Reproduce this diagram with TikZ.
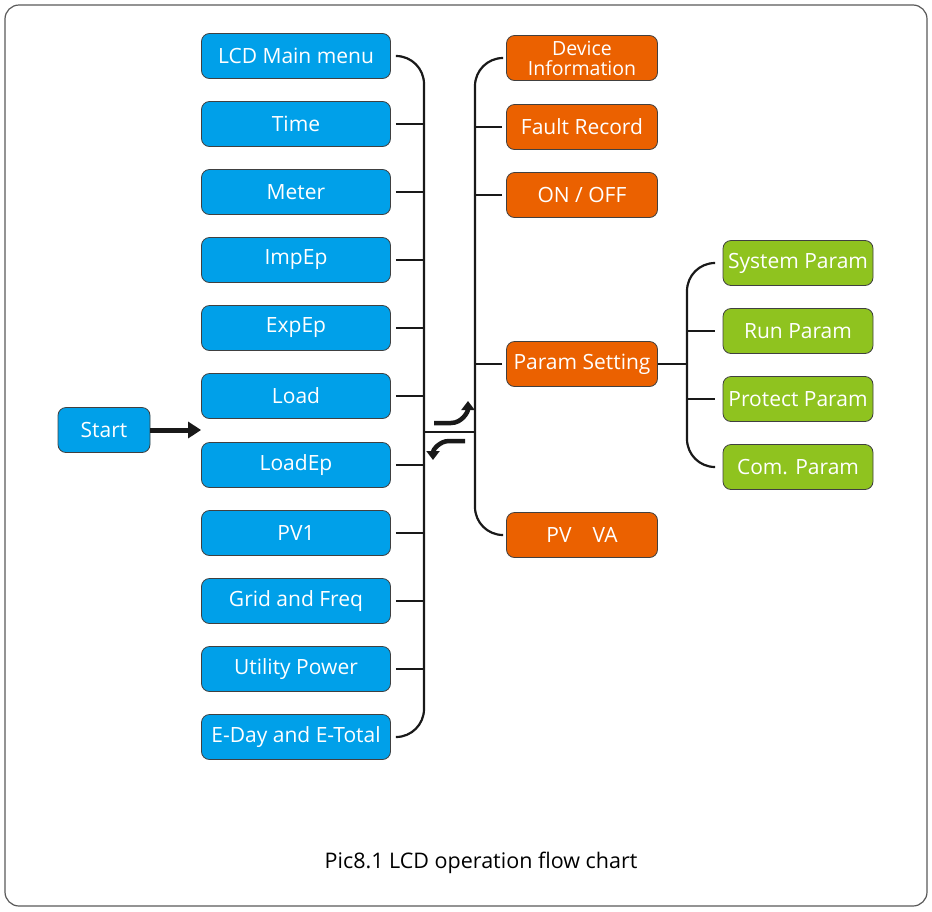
\documentclass[tikz,border=0pt]{standalone}
\usepackage{fontspec}
\setmainfont{Open Sans}
\usepackage{xcolor}
\usetikzlibrary{arrows.meta, positioning, calc}

\definecolor{lcdblue}{RGB}{0,160,233}
\definecolor{lcdorange}{RGB}{235,97,0}
\definecolor{lcdgreen}{RGB}{143,195,31}

\begin{document}
\begin{tikzpicture}[
    x=1pt, y=-1pt,
    box/.style={draw=black!75, line width=0.8pt, rounded corners=8pt, minimum height=45pt, inner sep=2pt, align=center, text=white, font=\fontsize{21}{22}\selectfont},
    menu/.style={box, fill=lcdblue, minimum width=189pt},
    sub/.style={box, fill=lcdorange, minimum width=151pt},
    param/.style={box, fill=lcdgreen, minimum width=150pt},
    link/.style={line width=2.2pt, draw=black!90},
    arr/.style={-{Triangle[length=13pt, width=16pt]}, line width=5pt, draw=black!90},
    turn/.style={-{Triangle[length=9pt, width=13pt]}, line width=4.5pt, draw=black!90}
]
\useasboundingbox (0,0) rectangle (932,911);
\draw[black!65, line width=1.2pt, rounded corners=14pt] (5,5) rectangle (927,906);

% main menu column
\node[menu] (main)   at (296,56)  {LCD Main menu};
\node[menu] (time)   at (296,124) {Time};
\node[menu] (meter)  at (296,192) {Meter};
\node[menu] (impep)  at (296,260) {ImpEp};
\node[menu] (expep)  at (296,328) {ExpEp};
\node[menu] (load)   at (296,396) {Load};
\node[menu] (loadep) at (296,465) {LoadEp};
\node[menu] (pv)     at (296,533) {PV1};
\node[menu] (grid)   at (296,601) {Grid and Freq};
\node[menu] (util)   at (296,669) {Utility Power};
\node[menu] (eday)   at (296,737) {E-Day and E-Total};

\node[menu, minimum width=92pt] (start) at (104,430) {Start};
\draw[arr] (start) -- (main.west |- start);

% sub menu column
\node[sub, font=\fontsize{19.5}{20}\selectfont] (info) at (582,58) {Device\\Information};
\node[sub] (fault) at (582,127) {Fault Record};
\node[sub] (onoff) at (582,195) {ON / OFF};
\node[sub] (setting) at (582,364) {Param Setting};
\node[sub] (pvva) at (582,535) {PV\quad VA};

% parameter column
\node[param] (sys)  at (798,263) {System Param};
\node[param] (run)  at (798,331) {Run Param};
\node[param] (prot) at (798,399) {Protect Param};
\node[param] (com)  at (798,467) {Com. Param};

% brackets
\coordinate (lspine) at (424,432);
\coordinate (rspine) at (475,432);
\coordinate (gspine) at (687,364);

\draw[link, rounded corners=28pt] ([xshift=5pt]main.east) -| (lspine |- eday.east) -- ([xshift=5pt]eday.east);
\foreach \n in {time,meter,impep,expep,load,loadep,pv,grid,util}
    \draw[link] ([xshift=5pt]\n.east) -- (lspine |- \n.east);

\draw[link, rounded corners=28pt] ([xshift=-4pt]info.west) -| (rspine |- pvva.west) -- ([xshift=-4pt]pvva.west);
\foreach \n in {fault,onoff,setting}
    \draw[link] ([xshift=-4pt]\n.west) -- (rspine |- \n.west);
\draw[link] (lspine) -- (rspine);

\draw[link, rounded corners=28pt] ([xshift=-8pt]sys.west) -| (gspine |- com.west) -- ([xshift=-8pt]com.west);
\foreach \n in {run,prot}
    \draw[link] ([xshift=-8pt]\n.west) -- (gspine |- \n.west);
\draw[link] (setting.east) -- (gspine);

% turn arrows
\coordinate (upA) at (434,423);
\coordinate (upB) at (451,423);
\coordinate (upC) at (468,401);
\coordinate (dnA) at (465,441);
\coordinate (dnB) at (449,441);
\coordinate (dnC) at (433,460);
\draw[turn] (upA) -- (upB) to[out=0, in=-90] (upC);
\draw[turn] (dnA) -- (dnB) to[out=180, in=90] (dnC);

\node[font=\fontsize{21.5}{23}\selectfont] (caption) at (481,863) {Pic8.1 LCD operation flow chart};
\end{tikzpicture}
\end{document}
